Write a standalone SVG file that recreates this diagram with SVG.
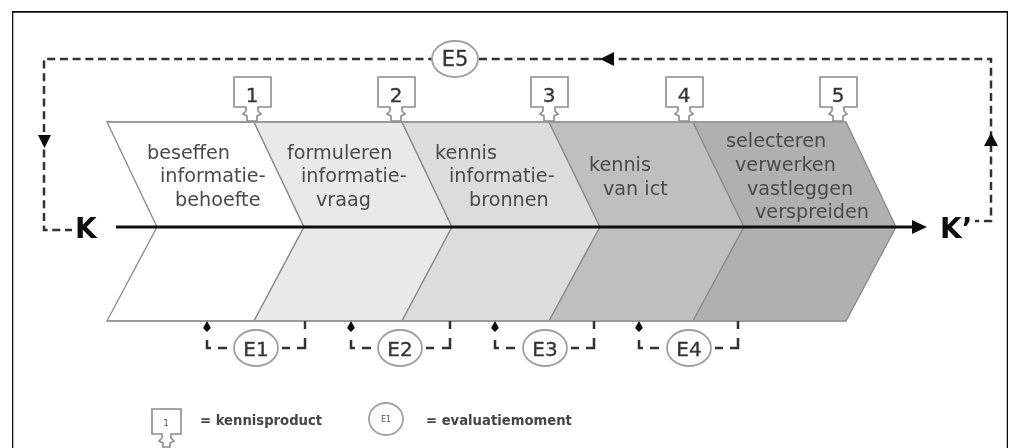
<svg xmlns="http://www.w3.org/2000/svg" width="1011" height="448" viewBox="0 0 1011 448">
<style>
.lbl{font-family:"DejaVu Sans",sans-serif;font-size:19.2px;fill:#4a4a4a}
.num{font-family:"DejaVu Sans",sans-serif;font-size:20px;fill:#333;text-anchor:middle;stroke:#333;stroke-width:.3}
.big{font-family:"DejaVu Sans",sans-serif;font-weight:bold;font-size:28px;fill:#111}
.leg{font-family:"DejaVu Sans",sans-serif;font-weight:bold;font-size:13.200px;fill:#444}
.sh{stroke:#8a8a8a;stroke-width:1.300}
.bar{fill:none;stroke:#9a9a9a;stroke-width:2.200}
.box{fill:#fff;stroke:#8c8c8c;stroke-width:1.600}
.ell{fill:#fff;stroke:#a0a0a0;stroke-width:1.800}
.dash{fill:none;stroke:#333;stroke-width:2.500;stroke-dasharray:8 4.700}
.seg{fill:none;stroke:#333;stroke-width:2.500}
</style>
<defs>
<filter id="soft" x="0" y="0" width="100%" height="100%"><feGaussianBlur stdDeviation="0.5"/></filter>
<path id="cal" d="M-18,-45H19V-15H6V-11L9,-8L5,-6V-1H-5V-6L-9,-8L-6,-11V-15H-18Z"/>
</defs>
<rect width="1011" height="448" fill="#fff"/>
<g filter="url(#soft)">
<path d="M12,448V11.500H1008V448" fill="none" stroke="#111" stroke-width="2.500"/>
<g id="stages">
<g id="stage-1"><path class="sh" fill="#fff" d="M107,122L157,227L107,321H254L304,227L254,122Z"/></g>
<g id="stage-2"><path class="sh" fill="#e9e9e9" d="M254,122L304,227L254,321H402L452,227L402,122Z"/></g>
<g id="stage-3"><path class="sh" fill="#dcdcdc" d="M402,122L452,227L402,321H549L600,227L549,122Z"/></g>
<g id="stage-4"><path class="sh" fill="#bfbfbf" d="M549,122L600,227L549,321H693L744,227L693,122Z"/></g>
<g id="stage-5"><path class="sh" fill="#b0b0b0" d="M693,122L744,227L693,321H846L896,227L846,122Z"/></g>
<path class="bar" d="M107,122H846M107,321H846"/>
</g>
<g id="labels">
<text class="lbl" x="147" y="159">beseffen</text><text class="lbl" x="160" y="182">informatie-</text><text class="lbl" x="175" y="206">behoefte</text>
<text class="lbl" x="287" y="159">formuleren</text><text class="lbl" x="301" y="182">informatie-</text><text class="lbl" x="316" y="206">vraag</text>
<text class="lbl" x="435" y="159">kennis</text><text class="lbl" x="449" y="182">informatie-</text><text class="lbl" x="469" y="206">bronnen</text>
<text class="lbl" x="589" y="171">kennis</text><text class="lbl" x="603" y="195">van ict</text>
<text class="lbl" x="726" y="147">selecteren</text><text class="lbl" x="735" y="171">verwerken</text><text class="lbl" x="747" y="195">vastleggen</text><text class="lbl" x="755" y="218">verspreiden</text>
</g>
<g id="connectors">
<path d="M116,227H916" stroke="#111" stroke-width="3" fill="none"/>
<path d="M927,227L912,220V234Z" fill="#111"/>
<path class="dash" d="M73,230H44V59H991V221H975"/>
<path d="M38,135H51L44.500,148Z M600,59L614,52V66Z M991,133L984,146H998Z" fill="#111"/>
<path class="seg" d="M207,340V348H211M218,348H227M282,348H290M297,348H305V338M305,329V321"/>
<path class="seg" d="M351,340V348H355M362,348H371M426,348H434M442,348H450V338M450,329V321"/>
<path class="seg" d="M495,340V348H499M506,348H515M571,348H579M586,348H594V338M594,329V321"/>
<path class="seg" d="M639,340V348H643M650,348H659M715,348H723M730,348H738V338M738,329V321"/>
<path d="M207,321L203,328L207,332L211,328Z M351,321L347,328L351,332L355,328Z M495,321L491,328L495,332L499,328Z M639,321L635,328L639,332L643,328Z" fill="#111"/>
</g>
<g id="K"><rect x="72" y="215" width="28" height="26" fill="#fff"/><text class="big" x="75" y="238">K</text></g>
<g id="K-prime"><rect x="938" y="215" width="37" height="26" fill="#fff"/><text class="big" x="940" y="238">K’</text></g>
<g id="e5"><ellipse class="ell" cx="455" cy="59" rx="23" ry="18"/><text class="num" x="455" y="66" style="font-size:21px">E5</text></g>
<g id="p1"><use href="#cal" x="252" y="122" class="box"/><text class="num" x="252" y="102">1</text></g>
<g id="p2"><use href="#cal" x="396" y="122" class="box"/><text class="num" x="396" y="102">2</text></g>
<g id="p3"><use href="#cal" x="549" y="122" class="box"/><text class="num" x="549" y="102">3</text></g>
<g id="p4"><use href="#cal" x="684" y="122" class="box"/><text class="num" x="684" y="102">4</text></g>
<g id="p5"><use href="#cal" x="838" y="122" class="box"/><text class="num" x="838" y="102">5</text></g>
<g id="e1"><ellipse class="ell" cx="256" cy="348" rx="22" ry="18"/><text class="num" x="256" y="356">E1</text></g>
<g id="e2"><ellipse class="ell" cx="400" cy="348" rx="22" ry="18"/><text class="num" x="400" y="356">E2</text></g>
<g id="e3"><ellipse class="ell" cx="545" cy="348" rx="22" ry="18"/><text class="num" x="545" y="356">E3</text></g>
<g id="e4"><ellipse class="ell" cx="689" cy="348" rx="22" ry="18"/><text class="num" x="689" y="356">E4</text></g>
<g id="legend">
<g id="legend-product"><path class="box" d="M152,409H181V434H171V438L174,441L170,443V447H163V443L159,441L162,438V434H152Z"/><text x="166" y="426" font-family="DejaVu Sans,sans-serif" font-size="9" fill="#555" text-anchor="middle">1</text><text class="leg" x="200" y="425">= kennisproduct</text></g>
<g id="legend-eval"><ellipse class="ell" cx="386" cy="419" rx="17" ry="16"/><text x="386" y="422" font-family="DejaVu Sans,sans-serif" font-size="8" fill="#555" text-anchor="middle">E1</text><text class="leg" x="426" y="425">= evaluatiemoment</text></g>
</g>
</g>
</svg>
